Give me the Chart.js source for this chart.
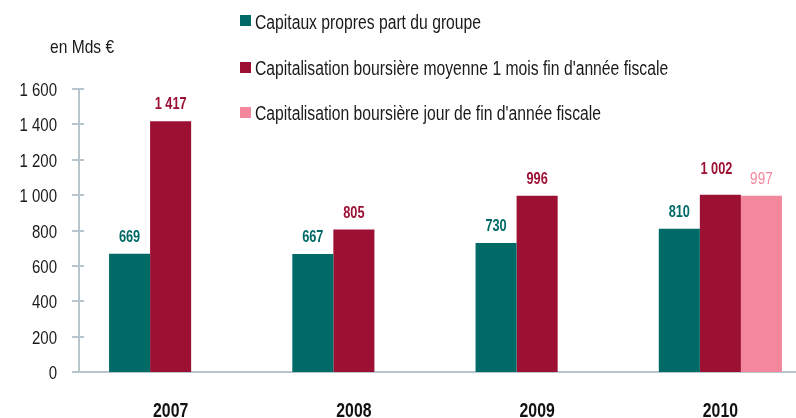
<!DOCTYPE html>
<html>
<head>
<meta charset="utf-8">
<script src="https://cdn.jsdelivr.net/npm/chart.js@4.4.0/dist/chart.umd.min.js"></script>
<style>
    html, body { margin: 0; padding: 0; background: #fff; overflow: hidden; }
    #wrap { position: relative; width: 812px; height: 418px; }
</style>
</head>
<body>
<div id="wrap"><canvas id="chart"></canvas></div>
<script>
// Data
const categories = ['2007', '2008', '2009', '2010'];
const seriesNames = [
    'Capitaux propres part du groupe',
    "Capitalisation boursière moyenne 1 mois fin d'année fiscale",
    "Capitalisation boursière jour de fin d'année fiscale"
];
const capitauxPropres = [669, 667, 730, 810];
const capiMoyenne = [1417, 805, 996, 1002];
const capiJour = [null, null, null, 997];
const yTicks = [0, 200, 400, 600, 800, 1000, 1200, 1400, 1600];
const unitLabel = 'en Mds €';

const colors = ['#006a67', '#9c1033', '#f2879d'];
const axisColor = '#b8c5cd';
const textColor = '#1a1a1a';
const FONT = "'Liberation Sans', Arial, sans-serif";

function fmt(v) {
    return String(v).replace(/\B(?=(\d{3})+(?!\d))/g, ' ');
}

// the original uses a narrow font, so squeeze text horizontally
function narrowText(ctx, text, x, y, align, sx) {
    ctx.save();
    ctx.translate(x, y);
    ctx.scale(sx, 1);
    ctx.textAlign = align;
    ctx.textBaseline = 'alphabetic';
    ctx.fillText(text, 0, 0);
    ctx.restore();
}

// axes: tick marks crossing the y axis, tick labels, unit label
const axisExtras = {
    id: 'axisExtras',
    afterDraw(chart) {
        const ctx = chart.ctx;
        const y = chart.scales.y;
        const x = chart.scales.x;
        const x0 = chart.chartArea.left;
        ctx.save();
        ctx.strokeStyle = axisColor;
        ctx.lineWidth = 2;
        yTicks.forEach(t => {
            const py = Math.round(y.getPixelForValue(t));
            ctx.beginPath();
            ctx.moveTo(x0 - 7, py);
            ctx.lineTo(t === 0 ? x0 : x0 + 5, py);
            ctx.stroke();
        });

        ctx.fillStyle = textColor;
        ctx.font = '19px ' + FONT;
        yTicks.forEach(t => {
            narrowText(ctx, fmt(t), 57, y.getPixelForValue(t) + 7, 'right', 0.79);
        });
        narrowText(ctx, unitLabel, 50, 53, 'left', 0.82);

        ctx.fillStyle = '#111';
        ctx.font = 'bold 20px ' + FONT;
        categories.forEach((c, i) => {
            narrowText(ctx, c, x.getPixelForTick(i), 417, 'center', 0.79);
        });
        ctx.restore();
    }
};

// Value labels above bars
const barLabels = {
    id: 'barLabels',
    afterDatasetsDraw(chart) {
        const ctx = chart.ctx;
        ctx.save();
        chart.data.datasets.forEach((ds, i) => {
            const meta = chart.getDatasetMeta(i);
            meta.data.forEach((bar, j) => {
                const v = ds.data[j];
                if (v === null || v === undefined) return;
                // lift the label when a neighbouring bar has its own label at the same height
                const crowded = i === 1 && capiJour[j] !== null;
                ctx.fillStyle = colors[i];
                ctx.font = (i === 2 ? '' : 'bold ') + '17px ' + FONT;
                narrowText(ctx, fmt(v), bar.x - (crowded ? 4 : 0), bar.y - (crowded ? 21 : 12), 'center', i === 2 ? 0.8 : 0.75);
            });
        });
        ctx.restore();
    }
};

// Vertical legend
const sideLegend = {
    id: 'sideLegend',
    afterDraw(chart) {
        const ctx = chart.ctx;
        const rows = [20.5, 67, 112];
        ctx.save();
        ctx.font = '20px ' + FONT;
        chart.data.datasets.forEach((ds, i) => {
            ctx.fillStyle = colors[i];
            ctx.fillRect(240, Math.round(rows[i] - 5.5), 11, 11);
            ctx.fillStyle = textColor;
            narrowText(ctx, ds.label, 255, rows[i] + 8, 'left', 0.785);
        });
        ctx.restore();
    }
};

new Chart(document.getElementById('chart'), {
    type: 'bar',
    data: {
        labels: categories,
        datasets: [
            { label: seriesNames[0], data: capitauxPropres, backgroundColor: colors[0] },
            { label: seriesNames[1], data: capiMoyenne, backgroundColor: colors[1] },
            { label: seriesNames[2], data: capiJour, backgroundColor: colors[2] }
        ]
    },
    options: {
        responsive: true,
        maintainAspectRatio: false,
        animation: false,
        layout: { padding: { top: 89, left: 0, right: 0, bottom: 0 } },
        datasets: { bar: { barPercentage: 1, categoryPercentage: 0.672 } },
        plugins: {
            legend: { display: false },
            tooltip: { enabled: false }
        },
        scales: {
            x: {
                grid: { display: false },
                border: { color: axisColor, width: 2 },
                ticks: { display: false },
                afterFit: s => { s.height = 46; }
            },
            y: {
                min: 0,
                max: 1600,
                afterBuildTicks: s => { s.ticks = yTicks.map(v => ({ value: v })); },
                grid: { display: false },
                border: { color: axisColor, width: 2 },
                ticks: { display: false },
                afterFit: s => { s.width = 79; }
            }
        }
    },
    plugins: [axisExtras, barLabels, sideLegend]
});
</script>
</body>
</html>
